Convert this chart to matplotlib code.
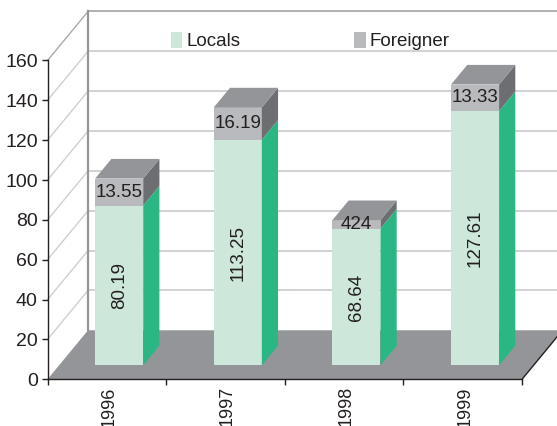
#!/usr/bin/env python3
import matplotlib
matplotlib.use('Agg')
import matplotlib.pyplot as plt
from matplotlib.patches import Polygon, Patch

# data
years = ['1996', '1997', '1998', '1999']
locals_vals = [80.19, 113.25, 68.64, 127.61]
foreign_vals = [13.55, 16.19, 4.24, 13.33]
locals_labels = ['80.19', '113.25', '68.64', '127.61']
foreign_labels = ['13.55', '16.19', '424', '13.33']
y_ticks = [0, 20, 40, 60, 80, 100, 120, 140, 160]

# fake 3d depth, in data units
DX = 0.3415
DY = 24.6
FRONT = 0.285
DEPTH = 0.40
BAR_W = 0.405

C_LOCAL = '#CDE8DA'
C_LOCAL_SIDE = '#2BB784'
C_FOREIGN = '#B9BABD'
C_FOREIGN_SIDE = '#6D6E71'
C_TOP = '#939598'
C_FLOOR = '#939598'
C_GRID = '#CFCFCF'
C_TEXT = '#231F20'

plt.rcParams['font.family'] = ['Liberation Sans', 'DejaVu Sans']
plt.rcParams['font.size'] = 13.5

fig = plt.figure(figsize=(5.57, 4.26), dpi=100)
ax = fig.add_axes([47.5 / 557, 46.7 / 426, 474.5 / 557, 318.8 / 426])
ax.set_xlim(0, len(years))
ax.set_ylim(0, 160)
ax.patch.set_alpha(0)
n = len(years)


def poly(points, color, z):
    ax.add_patch(Polygon(points, closed=True, facecolor=color, edgecolor='none',
                         clip_on=False, zorder=z))


# walls
for t in y_ticks[1:]:
    col = C_GRID if t < 160 else '#A7A9AC'
    ax.plot([0, DX], [t, t + DY], color=col, lw=1, clip_on=False, zorder=1)
    ax.plot([DX, n + DX], [t + DY, t + DY], color=col, lw=1.3, clip_on=False, zorder=1)
ax.plot([DX, DX], [DY, 160 + DY], color='#939598', lw=1.6, clip_on=False, zorder=1.5)

# floor
poly([(0, 0), (n, 0), (n + DX, DY), (DX, DY)], C_FLOOR, 2)
ax.plot([n, n + DX], [0, DY], color=C_TEXT, lw=1, clip_on=False, zorder=2.5)

# bars
dx = DX * DEPTH
dy = DY * DEPTH
y0 = DY * FRONT
for i in range(n):
    left = i + 0.5 + DX * FRONT - BAR_W / 2 + 0.007
    right = left + BAR_W
    mid = y0 + locals_vals[i]
    top = mid + foreign_vals[i]
    ax.bar(left, locals_vals[i], BAR_W, bottom=y0, align='edge', color=C_LOCAL, zorder=3)
    ax.bar(left, foreign_vals[i], BAR_W, bottom=mid, align='edge', color=C_FOREIGN, zorder=3)
    poly([(right, y0), (right + dx, y0 + dy), (right + dx, mid + dy), (right, mid)], C_LOCAL_SIDE, 3)
    poly([(right, mid), (right + dx, mid + dy), (right + dx, top + dy), (right, top)], C_FOREIGN_SIDE, 3)
    poly([(left, top), (right, top), (right + dx, top + dy), (left + dx, top + dy)], C_TOP, 3)
    xc = (left + right) / 2
    ax.text(xc, y0 + locals_vals[i] / 2, locals_labels[i], rotation=90, ha='center', va='center',
            color=C_TEXT, zorder=4)
    ax.text(xc, mid + foreign_vals[i] / 2, foreign_labels[i], ha='center', va='center',
            color=C_TEXT, zorder=4)

# axes
for s in ['top', 'right']:
    ax.spines[s].set_visible(False)
for s in ['left', 'bottom']:
    ax.spines[s].set_color(C_TEXT)
    ax.spines[s].set_linewidth(1.0)
    ax.spines[s].set_zorder(5)
ax.set_yticks(y_ticks)
ax.tick_params(axis='y', length=4, width=1, color=C_TEXT, labelcolor=C_TEXT, pad=3, labelsize=14)
ax.set_xticks(range(n + 1))
ax.set_xticklabels([])
ax.tick_params(axis='x', length=4, width=1, color=C_TEXT)
for i, y in enumerate(years):
    ax.annotate(y, xy=(i + 0.5, 0), xytext=(1.5, -5), textcoords='offset points', rotation=90,
                ha='center', va='top', color=C_TEXT, annotation_clip=False, fontsize=13)

# legend
handles = [Patch(facecolor=C_LOCAL, label='Locals'), Patch(facecolor=C_FOREIGN, label='Foreigner')]
ax.legend(handles=handles, ncol=2, frameon=False, loc='upper left',
          bbox_to_anchor=(171 / 557, 1 - 32 / 426), bbox_transform=fig.transFigure,
          borderpad=0, borderaxespad=0, handlelength=0.6, handleheight=0.9,
          handletextpad=0.2, columnspacing=6.1, labelcolor=C_TEXT, fontsize=13.5)

plt.savefig('out.png', dpi=100)
